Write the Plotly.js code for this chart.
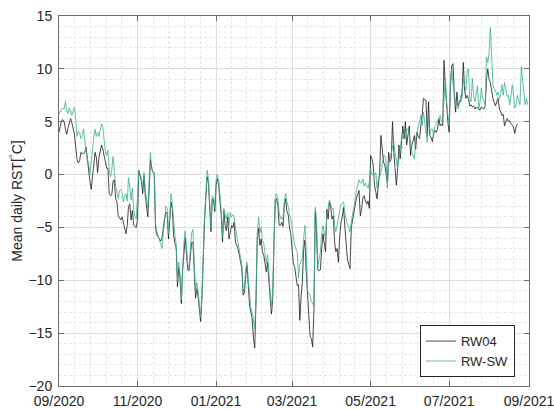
<!DOCTYPE html>
<html>
<head>
<meta charset="utf-8">
<script src="https://cdn.plot.ly/plotly-3.0.1.min.js"></script>
<style>
  html, body { margin: 0; padding: 0; background: #ffffff; }
  #chart { width: 554px; height: 409px; }
</style>
</head>
<body>
<div id="chart"></div>
<script>
// ---- Data (daily mean values, first day = 2020-09-01) ----
const startDate = '2020-09-01';

const rw04 = [
  4.0, 4.7, 5.1, 5.2, 5.0, 4.3, 3.8, 4.4, 5.0, 5.3,
  4.9, 4.4, 3.8, 2.6, 1.4, 1.1, 1.3, 2.1, 2.0, 2.0,
  2.1, 2.6, 1.3, 0.4, -0.6, -1.4, -0.2, 1.2, 2.1, 1.6,
  0.2, 1.6, 2.3, 2.8, 2.4, 1.8, 0.9, 0.6, 0.6, -1.8,
  -2.0, -1.9, -0.6, -0.5, -2.3, -2.6, -3.9, -4.1, -4.3, -4.0,
  -4.6, -5.0, -5.6, -4.8, -3.0, -2.8, -4.3, -3.4, -4.8, -4.9,
  -5.0, -4.2, 0.4, -0.1, -0.6, -1.8, -0.1, -2.0, -3.0, -4.0,
  -1.5, 1.4, 0.6, 0.2, 0.1, -5.1, -5.7, -5.9, -6.1, -6.3,
  -6.0, -5.0, -4.2, -3.6, -3.6, -6.1, -4.5, -2.6, -3.2, -5.7,
  -6.5, -6.9, -10.6, -8.8, -9.8, -12.2, -8.9, -7.0, -6.0, -7.5,
  -9.0, -9.1, -7.5, -6.4, -6.4, -9.2, -11.7, -10.8, -11.5, -12.7,
  -13.9, -11.7, -7.0, -4.5, -2.3, -0.2, -0.7, -2.6, -5.4, -2.3,
  -2.4, -3.5, -1.0, -0.4, -1.0, -2.5, -3.9, -6.4, -3.4, -4.8,
  -5.3, -4.0, -6.1, -5.5, -4.8, -5.0, -4.5, -6.4, -6.7, -7.0,
  -7.6, -8.5, -8.9, -11.4, -11.2, -9.5, -8.6, -10.5, -12.4, -13.0,
  -13.6, -15.5, -16.4, -12.0, -6.0, -5.1, -6.7, -6.1, -7.3, -7.6,
  -8.5, -9.2, -8.3, -10.5, -11.7, -13.2, -11.7, -6.1, -2.4, -2.3,
  -2.9, -4.8, -4.8, -4.5, -4.9, -2.9, -2.3, -3.5, -3.8, -5.0,
  -5.6, -7.0, -8.4, -8.7, -9.5, -10.5, -10.4, -13.8, -11.5, -10.2,
  -7.0, -6.2, -9.2, -11.1, -14.0, -15.3, -15.5, -16.3, -12.7, -3.5,
  -5.6, -9.0, -9.1, -9.0, -7.0, -5.6, -6.5, -7.3, -3.3, -4.2,
  -2.6, -3.0, -4.2, -3.9, -6.4, -7.3, -7.0, -8.3, -5.9, -4.5,
  -4.0, -3.1, -5.0, -7.0, -8.0, -8.5, -8.9, -5.0, -4.2, -3.5,
  -2.8, -2.2, -1.9, -1.5, -3.9, -3.3, -2.2, -2.0, -2.5, -2.8,
  -2.5, -3.2, 1.8, 1.5, 0.9, -1.0, -1.6, -2.3, -1.0, 0.2,
  3.7, 2.1, 1.2, 0.9, 0.2, -0.7, 2.1, 1.2, 1.5, 5.0,
  2.1, 0.5, -1.0, 0.6, 2.8, 1.5, 3.0, 4.6, 3.4, 5.0,
  2.8, 3.5, 4.6, 1.8, 2.8, 3.2, 3.7, 2.4, 4.0, 3.6,
  3.4, 4.6, 5.6, 7.2, 7.1, 7.0, 3.7, 6.9, 3.7, 3.5,
  3.1, 4.0, 4.2, 4.0, 4.3, 5.3, 4.6, 4.8, 4.6, 10.8,
  8.4, 6.5, 5.0, 4.0, 8.7, 10.3, 10.5, 7.5, 5.9, 7.8,
  6.5, 6.9, 6.9, 7.8, 10.6, 8.0, 7.2, 7.5, 7.2, 6.5,
  6.6, 6.4, 6.5, 6.2, 6.4, 6.3, 6.2, 6.1, 6.4, 6.3,
  6.2, 6.5, 9.1, 10.0, 9.0, 8.7, 7.8, 7.2, 6.8, 6.5,
  6.9, 7.2, 6.2, 5.9, 5.6, 5.7, 4.6, 5.0, 5.3, 5.0,
  5.1, 4.8, 4.7, 4.5, 3.9, 4.5, 4.8
];

const rwsw = [
  5.7, 6.0, 6.2, 6.3, 6.2, 6.9, 6.1, 5.8, 6.3, 6.0,
  5.6, 6.0, 6.4, 5.3, 3.6, 4.1, 4.0, 3.4, 3.6, 4.3,
  3.1, 2.3, 1.4, 1.1, 0.0, 1.3, 2.6, 3.5, 4.3, 3.6,
  4.0, 3.6, 4.2, 4.8, 4.5, 3.4, 2.2, 1.8, 2.3, 0.4,
  -0.2, 0.5, 1.7, 0.3, -1.2, -1.5, -2.3, -1.5, -1.4, -1.6,
  -2.6, -2.0, -1.8, -2.5, -0.3, -1.2, -2.4, -1.3, -3.4, -4.0,
  -4.2, -2.0, 0.3, 0.0, -0.4, -1.2, 0.2, -1.5, -2.5, -3.2,
  -0.5, 2.1, 0.6, 0.2, 0.2, -4.8, -5.4, -5.8, -6.3, -6.8,
  -7.0, -5.5, -4.2, -3.0, -3.2, -5.6, -3.8, -1.8, -2.8, -4.8,
  -5.8, -6.5, -10.0, -8.3, -9.5, -11.8, -8.6, -6.5, -5.3, -7.0,
  -8.5, -8.8, -7.0, -5.5, -5.2, -8.5, -11.2, -10.2, -11.0, -12.3,
  -13.5, -11.5, -6.6, -4.0, -2.0, 0.4, -0.3, -2.2, -5.0, -2.0,
  -2.2, -3.2, -0.5, 0.0, -0.6, -2.0, -3.4, -6.0, -3.2, -3.8,
  -4.2, -3.6, -4.8, -3.6, -4.0, -3.8, -4.0, -5.0, -5.8, -6.5,
  -7.3, -8.0, -8.6, -11.0, -10.8, -9.0, -8.3, -10.0, -11.8, -12.6,
  -13.0, -14.0, -14.6, -11.5, -5.5, -4.0, -5.5, -5.0, -6.2, -6.5,
  -7.4, -8.4, -7.6, -9.5, -11.0, -12.8, -10.5, -5.4, -2.0, -1.8,
  -2.3, -3.6, -4.2, -4.0, -4.3, -2.5, -1.8, -2.6, -3.0, -3.8,
  -4.2, -5.0, -6.0, -6.7, -7.0, -7.3, -9.8, -8.5, -8.2, -7.9,
  -6.0, -4.8, -7.3, -11.1, -11.2, -11.4, -12.0, -12.2, -12.4, -3.1,
  -4.2, -8.7, -8.0, -7.3, -5.6, -4.8, -5.5, -6.1, -3.9, -3.2,
  -2.4, -2.8, -3.2, -3.2, -4.8, -5.4, -4.8, -4.2, -3.6, -2.8,
  -2.7, -2.6, -3.6, -4.2, -4.8, -5.0, -5.4, -4.5, -3.6, -3.0,
  -2.3, -1.5, -1.1, -0.5, -0.8, -0.8, -0.4, -1.1, -0.8, -1.0,
  -1.3, -0.7, 0.6, 0.0, 0.0, 0.0, 0.2, -1.3, -0.4, -0.2,
  0.2, 0.9, 1.8, 1.8, 1.2, -1.3, 0.9, 1.5, 2.1, 2.8,
  3.1, 2.0, 1.2, 0.6, 1.5, 2.8, 3.4, 3.4, 4.0, 3.4,
  4.3, 4.3, 3.7, 3.1, 2.1, 1.8, 1.5, 3.4, 4.0, 4.5,
  5.3, 5.6, 4.6, 5.9, 5.0, 4.0, 3.1, 5.3, 4.0, 4.3,
  4.3, 3.7, 4.6, 4.8, 5.0, 5.3, 5.6, 5.0, 5.0, 7.5,
  9.1, 6.9, 5.5, 4.6, 8.4, 10.0, 8.5, 7.8, 6.5, 6.9,
  6.2, 6.8, 7.5, 7.2, 9.1, 8.4, 8.0, 9.8, 10.0, 7.2,
  6.9, 9.1, 7.5, 6.9, 7.5, 8.4, 6.2, 6.9, 8.2, 7.2,
  6.9, 6.6, 11.1, 10.6, 11.5, 13.9, 11.2, 8.5, 8.1, 7.9,
  7.5, 7.8, 7.2, 7.6, 8.5, 7.5, 8.7, 7.8, 7.4, 7.5,
  6.6, 7.5, 8.5, 7.5, 6.3, 6.6, 7.5, 7.0, 6.6, 10.2,
  9.0, 7.8, 6.6, 7.2, 6.6
];

const seriesNames = ['RW04', 'RW-SW'];
const xTickVals = ['2020-09-01', '2020-11-01', '2021-01-01', '2021-03-01', '2021-05-01', '2021-07-01', '2021-09-01'];
const xTickText = ['09/2020', '11/2020', '01/2021', '03/2021', '05/2021', '07/2021', '09/2021'];
const yTickVals = [-20, -15, -10, -5, 0, 5, 10, 15];
const yTitle = 'Mean daily RST[<sup>°</sup>C]';

// ---- helpers ----
function toUTC(s) { const p = s.split('-').map(Number); return Date.UTC(p[0], p[1] - 1, p[2]); }
function fmt(ms) { return new Date(ms).toISOString().replace('T', ' ').slice(0, 19); }
const t0 = toUTC(startDate);
const DAY = 86400000;
const datesFor = arr => arr.map((_, i) => fmt(t0 + i * DAY));

// minor grid: each two-month major interval split in five
const minorVals = [];
for (let i = 0; i < xTickVals.length - 1; i++) {
  const a = toUTC(xTickVals[i]), b = toUTC(xTickVals[i + 1]);
  for (let k = 1; k < 5; k++) minorVals.push(fmt(a + (b - a) * k / 5));
}
// tiny padding so the end ticks are kept inside the range
const xRange = [fmt(toUTC(xTickVals[0]) - 60000), fmt(toUTC(xTickVals[xTickVals.length - 1]) + 60000)];

const axisCol = '#6b6b6b';
const txtCol = '#262626';

const traces = [
  { x: datesFor(rw04), y: rw04, name: seriesNames[0], type: 'scatter', mode: 'lines',
    line: { color: '#1a1a1a', width: 0.8 } },
  { x: datesFor(rwsw), y: rwsw, name: seriesNames[1], type: 'scatter', mode: 'lines',
    line: { color: '#3aae96', width: 0.8 } }
];

const layout = {
  width: 554, height: 409,
  margin: { l: 59, r: 25, t: 16, b: 23, pad: 0 },
  paper_bgcolor: '#ffffff', plot_bgcolor: '#ffffff',
  font: { family: 'Liberation Sans, Arial, sans-serif', size: 14, color: txtCol },
  showlegend: true,
  legend: {
    x: 0.970, xanchor: 'right', y: 0.024, yanchor: 'bottom',
    bgcolor: '#ffffff', bordercolor: txtCol, borderwidth: 1,
    font: { size: 13, color: txtCol }, tracegroupgap: 0
  },
  xaxis: {
    type: 'date', range: xRange,
    tickmode: 'array', tickvals: xTickVals, ticktext: xTickText,
    ticks: 'inside', ticklen: 5, tickwidth: 1, tickcolor: axisCol,
    showline: true, linecolor: axisCol, linewidth: 1, mirror: 'ticks',
    showgrid: true, gridcolor: '#dcdcdc', gridwidth: 1, zeroline: false,
    ticklabelstandoff: 2, ticklabeloverflow: 'allow',
    minor: { tickvals: minorVals, showgrid: true, gridcolor: '#e6e6e6', griddash: '3px,2px', gridwidth: 1, ticks: '' }
  },
  yaxis: {
    range: [-20, 15], tickmode: 'array', tickvals: yTickVals,
    ticks: 'inside', ticklen: 5, tickwidth: 1, tickcolor: axisCol,
    showline: true, linecolor: axisCol, linewidth: 1, mirror: 'ticks',
    showgrid: true, gridcolor: '#dcdcdc', gridwidth: 1, zeroline: false,
    ticklabelstandoff: 3,
    minor: { dtick: 1, showgrid: true, gridcolor: '#e6e6e6', griddash: '3px,2px', gridwidth: 1, ticks: '' },
    title: { text: yTitle, font: { size: 14, color: txtCol }, standoff: 2 }
  }
};

Plotly.newPlot('chart', traces, layout, { displayModeBar: false, staticPlot: true });
</script>
</body>
</html>
